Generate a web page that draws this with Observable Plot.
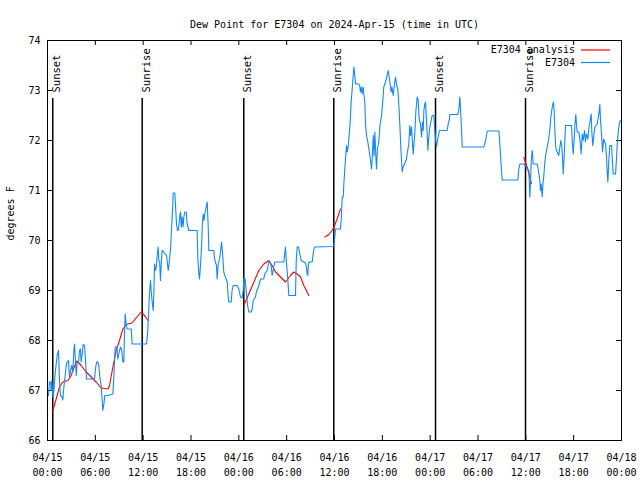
<!DOCTYPE html>
<html>
<head>
<meta charset="utf-8">
<script src="https://cdn.jsdelivr.net/npm/d3@7"></script>
<script src="https://cdn.jsdelivr.net/npm/@observablehq/plot@0.6"></script>
<style>
  html, body { margin: 0; padding: 0; background: #fff; }
</style>
</head>
<body>
<div id="chart"></div>
<script>
// ---- data (hours after 2024-04-15 00:00 UTC) ----
const titleText = "Dew Point for E7304 on 2024-Apr-15 (time in UTC)";
const yLabel = "degrees F";
const legendLabels = ["E7304 analysis", "E7304"];
const seriesColors = ["#ff0000", "#1188ff"];

const blueHours = [0.13,0.25,0.4,0.46,0.55,0.67,0.8,0.96,1.1,1.21,1.38,1.5,1.63,1.8,1.92,2.05,2.22,2.35,2.47,2.63,2.76,2.9,3.05,3.18,3.3,3.39,3.47,3.6,3.72,3.9,4.01,4.14,4.22,4.35,4.47,4.64,4.77,4.89,5.9,6.02,6.15,6.31,6.44,6.56,6.73,6.86,6.94,7.07,7.19,7.57,8.2,8.32,8.41,8.49,8.7,8.82,9.03,9.16,9.32,9.45,9.57,9.66,9.74,9.87,9.99,10.5,10.62,12.42,12.55,12.7,12.8,12.92,13.0,13.13,13.26,13.35,13.42,13.55,13.65,13.76,13.88,13.97,14.07,14.17,14.27,14.38,14.6,14.93,15.14,15.25,15.43,15.55,15.72,15.76,15.97,16.05,16.18,16.3,16.39,16.5,16.6,16.68,16.78,16.89,17.0,17.1,17.23,17.4,17.52,17.73,18.77,18.85,18.98,19.07,19.2,19.32,19.42,19.53,19.63,19.73,19.9,20.03,20.16,20.24,20.86,20.95,21.2,21.28,21.4,21.58,21.7,21.83,21.95,22.11,22.3,22.54,22.66,22.74,23.04,23.15,23.29,23.79,24.0,24.21,24.4,24.55,24.63,24.8,24.96,25.1,25.25,25.55,25.68,25.8,26.09,26.2,26.51,26.72,27.13,27.25,27.56,27.76,27.9,28.06,28.18,28.3,28.51,29.64,29.75,29.85,29.95,30.14,30.27,31.11,31.2,31.32,31.5,31.65,31.82,32.36,32.48,32.57,32.65,32.72,32.78,33.2,33.35,33.49,35.91,36.04,36.13,36.75,36.85,36.97,37.1,37.17,37.28,37.38,37.51,37.6,37.7,37.8,37.95,38.09,38.22,38.35,38.43,38.55,38.64,39.05,39.15,39.26,39.35,39.47,39.58,39.68,39.8,39.89,40.02,40.18,40.43,40.55,40.64,40.75,40.86,40.96,41.06,41.18,41.27,41.38,41.56,41.7,41.9,42.05,42.18,42.4,42.6,42.73,42.83,42.94,43.11,43.2,43.36,43.5,43.65,43.8,43.94,44.05,44.19,44.36,44.49,44.6,44.78,45.03,45.15,45.32,45.45,45.55,45.66,45.77,45.87,46.07,46.2,46.37,46.5,46.62,46.79,46.92,47.04,47.13,47.21,47.33,47.42,47.5,47.63,47.71,47.83,47.96,48.12,48.25,48.46,48.55,48.67,48.8,48.88,49.0,49.17,50.14,50.26,50.43,50.47,51.47,51.6,51.72,51.8,51.9,52.02,54.73,54.95,55.16,56.62,56.74,56.91,57.04,58.99,59.12,59.25,59.75,59.95,60.17,60.38,60.5,60.59,60.67,60.8,60.85,60.92,61.42,61.55,61.67,61.76,61.84,61.93,62.05,62.15,62.26,62.38,62.55,62.68,62.8,63.01,63.1,63.22,63.35,63.47,63.55,63.64,63.75,63.85,64.14,64.27,64.39,64.5,64.6,64.69,64.81,64.98,65.73,65.82,65.94,66.05,66.15,66.27,66.35,66.44,66.65,66.77,66.86,66.94,67.07,67.19,67.36,67.48,67.61,67.78,67.9,68.03,68.2,68.28,68.4,68.53,68.66,68.95,69.16,69.28,69.37,69.49,69.62,69.75,70.0,70.12,70.2,70.29,70.41,70.54,70.75,70.83,70.96,71.26,71.38,71.47,71.59,71.72,71.84];
const blueValues = [66.9,67.17,67.17,67.0,67.2,66.87,67.0,67.33,67.55,67.7,67.8,67.2,66.9,66.88,66.81,67.07,67.3,67.5,67.57,67.6,67.27,67.4,67.5,67.37,67.8,67.93,67.7,67.3,67.57,67.57,67.8,67.83,67.57,67.73,67.92,67.9,67.6,67.23,67.23,67.43,67.57,67.57,67.5,67.27,67.1,66.8,66.6,66.73,66.9,66.9,66.93,67.27,67.63,67.87,67.87,67.63,67.8,67.87,67.8,67.57,67.57,68.13,68.53,68.33,68.23,68.23,67.93,67.93,68.13,68.6,68.97,69.2,69.0,68.77,68.6,69.0,69.53,69.4,69.47,69.7,69.87,69.6,69.57,69.2,69.53,69.8,69.77,69.7,69.4,69.53,69.83,70.2,70.73,70.95,70.95,70.73,70.33,70.2,70.2,70.33,70.5,70.57,70.27,70.47,70.27,70.47,70.57,70.57,70.33,70.2,70.2,69.67,69.33,69.23,69.53,69.87,70.33,70.53,70.4,70.53,70.67,70.77,70.27,69.8,69.8,69.63,69.5,69.23,69.5,69.63,69.77,69.97,69.77,69.37,69.27,69.17,68.9,68.77,68.77,69.0,69.1,69.1,69.03,68.87,68.85,69.0,69.25,69.23,68.93,68.7,68.57,68.57,68.63,68.8,68.87,68.97,69.1,69.23,69.23,69.33,69.4,69.57,69.57,69.5,69.3,69.4,69.57,69.57,69.73,69.87,69.6,69.23,68.9,68.9,69.6,69.87,69.87,69.73,69.6,69.55,69.47,69.33,69.3,69.5,69.57,69.57,69.77,69.87,69.88,70.07,70.23,70.23,70.45,70.87,70.87,71.13,71.4,71.63,71.9,71.77,71.87,72.03,72.33,72.77,73.03,73.3,73.47,73.3,73.13,73.13,73.1,72.97,73.07,72.93,73.07,72.93,72.77,72.33,72.1,71.97,71.7,71.57,71.43,71.7,72.1,71.7,72.17,71.7,71.43,71.83,71.97,72.3,72.5,72.77,73.07,73.17,73.3,73.4,73.3,73.17,72.97,73.07,72.9,73.1,73.27,73.1,73.03,72.77,72.33,71.73,71.37,71.47,71.53,71.63,71.77,71.93,72.3,72.1,72.27,71.97,71.73,72.13,72.57,72.87,72.8,72.43,72.33,72.07,72.37,72.2,72.6,72.73,72.77,72.53,72.13,71.8,72.07,72.27,72.4,72.5,72.5,72.27,72.03,71.87,71.97,72.07,72.2,72.2,72.33,72.43,72.52,72.52,72.63,72.87,72.67,72.33,71.87,71.87,72.0,72.19,72.19,71.93,71.47,71.21,71.21,71.43,71.53,71.53,71.5,71.43,71.4,70.87,71.2,71.57,71.8,71.73,71.53,71.53,71.43,71.3,71.2,71.0,71.13,70.87,71.13,71.3,71.57,71.77,71.87,71.97,72.2,72.4,72.57,72.7,72.77,72.6,72.2,71.87,71.8,71.7,71.87,72.0,71.9,71.67,71.33,71.7,72.3,72.3,72.0,71.73,72.0,72.3,72.52,72.33,72.17,72.17,72.03,71.9,71.73,72.13,72.0,72.2,71.97,72.13,72.03,72.23,72.37,72.53,72.17,71.9,72.1,72.27,72.33,72.53,72.72,72.4,72.13,71.77,72.03,71.93,71.67,71.4,71.17,71.6,71.9,71.9,71.67,71.33,71.33,71.67,71.93,72.17,72.33,72.4];

const redSegments = [1,1,1,1,1,1,1,1,1,1,1,1,1,1,1,1,1,1,1,1,1,1,1,1,1, 2,2,2,2,2,2,2,2,2,2,2,2,2,2,2,2, 3,3,3,3,3, 4,4,4];
const redHours = [0.67,1.09,1.5,1.92,2.55,2.97,3.3,3.68,4.22,4.85,5.48,6.1,6.73,7.57,7.78,8.2,8.62,9.03,9.45,9.87,10.58,11.12,11.75,12.17,12.6, 24.62,25.25,25.88,26.51,27.13,27.76,28.18,28.6,29.23,29.85,30.48,30.9,31.32,31.74,32.15,32.78, 34.8,35.3,35.9,36.3,36.75, 59.75,60.2,60.7];
const redValues = [66.6,66.83,67.07,67.17,67.2,67.3,67.45,67.59,67.5,67.37,67.27,67.17,67.05,67.03,67.1,67.47,67.8,68.0,68.23,68.32,68.35,68.45,68.57,68.5,68.4, 68.7,68.93,69.17,69.4,69.53,69.6,69.5,69.37,69.27,69.17,69.3,69.37,69.33,69.27,69.1,68.9, 70.07,70.12,70.25,70.42,70.63, 71.66,71.45,71.14];

const eventHours = [0.66, 11.88, 24.62, 35.91, 48.67, 59.96];
const eventLabels = ["Sunset", "Sunrise", "Sunset", "Sunrise", "Sunset", "Sunrise"];

const yTicks = [66, 67, 68, 69, 70, 71, 72, 73, 74];
const xTickHours = [0, 6, 12, 18, 24, 30, 36, 42, 48, 54, 60, 66, 72];
const yDomain = [66, 74];
const xDomainHours = [0, 72];

// ---- build ----
const t0 = Date.UTC(2024, 3, 15);
const toDate = h => new Date(t0 + h * 3600e3);

const blue = blueHours.map((h, i) => ({t: toDate(h), v: blueValues[i]}));
const red = redHours.map((h, i) => ({t: toDate(h), v: redValues[i], s: redSegments[i]}));
const events = eventHours.map((h, i) => ({t: toDate(h), label: eventLabels[i]}));
const xTicks = xTickHours.map(toDate);

const W = 640, H = 480;
const mL = 47, mR = 19, mT = 40, mB = 40;
const fw = W - mL - mR, fh = H - mT - mB;
const font = "DejaVu Sans Mono";

const plot = Plot.plot({
  width: W, height: H,
  marginLeft: mL, marginRight: mR, marginTop: mT, marginBottom: mB,
  style: {fontFamily: font, fontSize: "10px", background: "white", color: "black"},
  x: {type: "utc", domain: xDomainHours.map(toDate), label: null},
  y: {domain: yDomain, label: null},
  marks: [
    Plot.frame({stroke: "black", strokeWidth: 1}),
    // inward mirrored ticks
    Plot.tickY(yTicks, {y: d => d, insetRight: fw - 5, stroke: "black"}),
    Plot.tickY(yTicks, {y: d => d, insetLeft: fw - 5, stroke: "black"}),
    Plot.tickX(xTicks, {x: d => d, insetTop: fh - 5, stroke: "black"}),
    Plot.tickX(xTicks, {x: d => d, insetBottom: fh - 5, stroke: "black"}),
    Plot.axisY({ticks: yTicks, tickSize: 0, tickPadding: 7, tickFormat: d => String(d), fontSize: 10, label: null}),
    Plot.axisX({ticks: xTicks, tickSize: 0, tickPadding: 10, lineHeight: 1.5, fontSize: 10,
      tickFormat: d3.utcFormat("%m/%d\n%H:%M"), label: null}),
    // sunrise / sunset lines
    Plot.ruleX(events, {x: "t", insetTop: 58, stroke: "black", strokeWidth: 1.5}),
    Plot.text(events, {x: "t", text: "label", frameAnchor: "top", dy: 52, rotate: -90,
      textAnchor: "start", fontSize: 10.5, fill: "black"}),
    // series
    Plot.line(red, {x: "t", y: "v", z: "s", stroke: seriesColors[0], strokeWidth: 1.1}),
    Plot.line(blue, {x: "t", y: "v", stroke: seriesColors[1], strokeWidth: 1.1}),
    // title and y label
    Plot.text([titleText], {frameAnchor: "top", dy: -20, fontSize: 10, fill: "black"}),
    Plot.text([yLabel], {frameAnchor: "left", dx: -37, rotate: -90, fontSize: 10, fill: "black"})
  ]
});

// legend (top-right, inside frame)
const svg = d3.select(plot);
const lg = svg.append("g").attr("font-family", font).attr("font-size", 10);
legendLabels.forEach((lab, i) => {
  const y = mT + 10 + i * 12.5;
  lg.append("text").attr("x", W - mR - 46).attr("y", y).attr("dy", "0.32em")
    .attr("text-anchor", "end").attr("fill", "black").text(lab);
  lg.append("line").attr("x1", W - mR - 40).attr("x2", W - mR - 11)
    .attr("y1", y).attr("y2", y).attr("stroke", seriesColors[i]).attr("stroke-width", 1.2);
});

document.getElementById("chart").appendChild(plot);
</script>
</body>
</html>
